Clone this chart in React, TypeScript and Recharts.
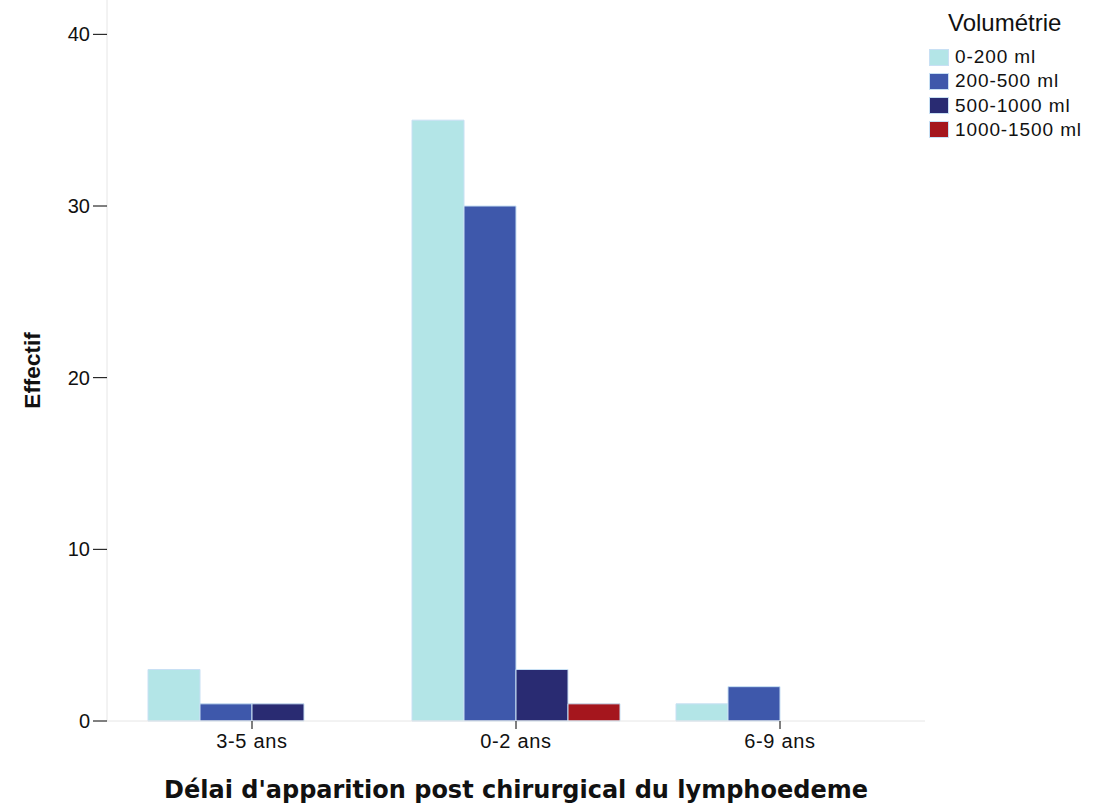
import React from "react";
import { BarChart, Bar, XAxis, YAxis, Label } from "recharts";

const categories = ["3-5 ans", "0-2 ans", "6-9 ans"];
const s0_200 = [3, 35, 1];
const s200_500 = [1, 30, 2];
const s500_1000 = [1, 3, null];
const s1000_1500 = [null, 1, null];
const yTicks = [0, 10, 20, 30, 40];

const seriesNames = ["0-200 ml", "200-500 ml", "500-1000 ml", "1000-1500 ml"];
const colors = ["#b3e5e7", "#3e58ab", "#292b72", "#a5161d"];

const data = categories.map((c, i) => ({
  cat: c,
  a: s0_200[i],
  b: s200_500[i],
  c: s500_1000[i],
  d: s1000_1500[i],
}));

const FONT = "'Liberation Sans', Arial, sans-serif";

const LegendBox = () => (
  <div style={{ position: "absolute", left: 929, top: 0, width: 185, fontFamily: FONT, color: "#111" }}>
    <div style={{ position: "absolute", left: 19, top: 8, fontSize: 24, whiteSpace: "nowrap", lineHeight: "30px" }}>
      Volumétrie
    </div>
    {seriesNames.map((n, i) => (
      <div
        key={n}
        style={{ position: "absolute", left: 0, top: 45 + i * 24.3, height: 24, display: "flex", alignItems: "center", whiteSpace: "nowrap" }}
      >
        <span
          style={{
            display: "inline-block",
            width: 18,
            height: 15,
            background: colors[i],
            border: "1px solid #c8e0f4",
            marginRight: 6,
          }}
        />
        <span style={{ fontSize: 19, letterSpacing: 0.9 }}>{n}</span>
      </div>
    ))}
  </div>
);

const XTitle = (props: any) => {
  const vb = props.viewBox || { x: 107, y: 721, width: 818, height: 30 };
  return (
    <text
      x={vb.x + vb.width / 2}
      y={vb.y + 77}
      textAnchor="middle"
      style={{ fontSize: 24, fontWeight: "bold", fill: "#111", fontFamily: "'DejaVu Sans', sans-serif" }}
    >
      Délai d'apparition post chirurgical du lymphoedeme
    </text>
  );
};

const YTitle = (props: any) => {
  const vb = props.viewBox || { x: 0, y: 0, width: 107, height: 721 };
  const cx = vb.x + 32;
  const cy = vb.y + vb.height / 2 + 10;
  return (
    <text
      x={cx}
      y={cy}
      transform={`rotate(-90 ${cx} ${cy})`}
      textAnchor="middle"
      dominantBaseline="central"
      style={{ fontSize: 22.5, fontWeight: "bold", fill: "#111", fontFamily: FONT }}
    >
      Effectif
    </text>
  );
};

export default function App() {
  return (
    <div style={{ position: "absolute", left: 0, top: 0, width: 1114, height: 806, background: "#fff" }}>
      <BarChart
        width={1114}
        height={806}
        data={data}
        margin={{ top: 0, right: 189, bottom: 55, left: 0 }}
        barCategoryGap={28}
        barGap={0}
      >
        <XAxis
          dataKey="cat"
          height={30}
          padding={{ left: 13, right: 13 }}
          axisLine={{ stroke: "#e6e6e6" }}
          tickLine={{ stroke: "#000" }}
          tickSize={8}
          tickMargin={5}
          tick={{ fontSize: 20, fill: "#111", fontFamily: FONT, letterSpacing: 0.7 }}
        >
          <Label content={<XTitle />} />
        </XAxis>
        <YAxis
          width={107}
          domain={[0, 42]}
          ticks={yTicks}
          axisLine={{ stroke: "#e6e6e6" }}
          tickLine={{ stroke: "#000" }}
          tickSize={14}
          tickMargin={3}
          tick={{ fontSize: 20, fill: "#111", fontFamily: FONT }}
        >
          <Label content={<YTitle />} />
        </YAxis>
        <Bar dataKey="a" name={seriesNames[0]} fill={colors[0]} stroke="#c8e0f4" strokeWidth={1} isAnimationActive={false} />
        <Bar dataKey="b" name={seriesNames[1]} fill={colors[1]} stroke="#c8e0f4" strokeWidth={1} isAnimationActive={false} />
        <Bar dataKey="c" name={seriesNames[2]} fill={colors[2]} stroke="#c8e0f4" strokeWidth={1} isAnimationActive={false} />
        <Bar dataKey="d" name={seriesNames[3]} fill={colors[3]} stroke="#c8e0f4" strokeWidth={1} isAnimationActive={false} />
      </BarChart>
      <LegendBox />
    </div>
  );
}
